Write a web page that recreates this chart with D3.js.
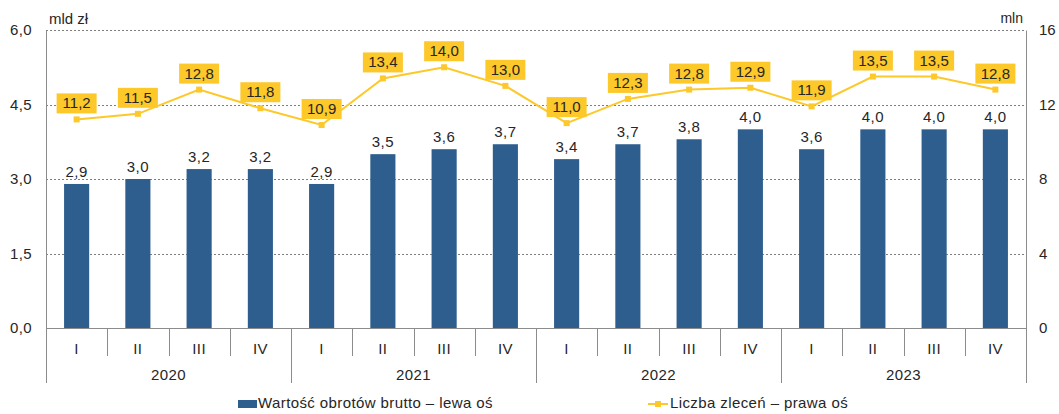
<!DOCTYPE html>
<html>
<head>
<meta charset="utf-8">
<script src="https://cdn.jsdelivr.net/npm/d3@7"></script>
<style>
    body { margin: 0; background: #fff; font-family: "Liberation Sans", Arial, sans-serif; }
    text { fill: #262626; }
    .wide { letter-spacing: 0.4px; }
</style>
</head>
<body>
<div id="chart"></div>
<script>
// Data
const years = ["2020", "2021", "2022", "2023"];
const quarters = ["I", "II", "III", "IV"];
const turnover = [2.9, 3.0, 3.2, 3.2, 2.9, 3.5, 3.6, 3.7, 3.4, 3.7, 3.8, 4.0, 3.6, 4.0, 4.0, 4.0];
const orders = [11.2, 11.5, 12.8, 11.8, 10.9, 13.4, 14.0, 13.0, 11.0, 12.3, 12.8, 12.9, 11.9, 13.5, 13.5, 12.8];
const leftTicks = [0, 1.5, 3.0, 4.5, 6.0];
const rightTicks = [0, 4, 8, 12, 16];

const W = 1059, H = 414;
const margin = { top: 30, right: 33, bottom: 86, left: 46 };
const width = W - margin.left - margin.right;
const height = H - margin.top - margin.bottom;

const barColor = "#2d5e8e";
const lineColor = "#fdc82a";
const fmt = d3.format(".1f");
const comma = v => fmt(v).replace(".", ",");

const keys = [];
years.forEach(y => quarters.forEach(q => keys.push(y + "-" + q)));

const svg = d3.select("#chart")
    .append("svg")
    .attr("width", W)
    .attr("height", H)
    .append("g")
    .attr("transform", `translate(${margin.left},${margin.top})`);

// Scales
const x = d3.scaleBand().domain(keys).range([0, width]).paddingInner(0.59).paddingOuter(0.295);
const xBand = d3.scaleBand().domain(keys).range([0, width]);
const yL = d3.scaleLinear().domain([0, 6]).range([height, 0]);
const yR = d3.scaleLinear().domain([0, 16]).range([height, 0]);

// Grid lines
svg.append("g")
    .selectAll("line")
    .data(leftTicks.filter(d => d > 0))
    .enter()
    .append("line")
    .attr("x1", 0)
    .attr("x2", width)
    .attr("y1", d => Math.round(yL(d)) + 0.5)
    .attr("y2", d => Math.round(yL(d)) + 0.5)
    .attr("stroke", "#7f7f7f")
    .attr("stroke-dasharray", "2,2");

// Left axis
const leftAxis = svg.append("g")
    .call(d3.axisLeft(yL).tickValues(leftTicks).tickSize(0).tickPadding(14).tickFormat(comma));
leftAxis.select(".domain").attr("stroke", "#8c8c8c");
leftAxis.selectAll("text").attr("class", "wide").style("font-size", "15px").style("font-family", "Liberation Sans, Arial");

// Right axis
const rightAxis = svg.append("g")
    .attr("transform", `translate(${width},0)`)
    .call(d3.axisRight(yR).tickValues(rightTicks).tickSize(0).tickPadding(13));
rightAxis.select(".domain").attr("stroke", "#8c8c8c");
rightAxis.selectAll("text").style("font-size", "15px").style("font-family", "Liberation Sans, Arial");

// Axis units
svg.append("text").attr("x", 3).attr("y", -6).style("font-size", "15px").text("mld zł");
svg.append("text").attr("x", width - 3).attr("y", -7).attr("text-anchor", "end").style("font-size", "14px").text("mln");

// Bars
svg.selectAll(".bar")
    .data(turnover)
    .enter()
    .append("rect")
    .attr("class", "bar")
    .attr("x", (d, i) => x(keys[i]))
    .attr("width", x.bandwidth())
    .attr("y", d => yL(d))
    .attr("height", d => height - yL(d))
    .attr("fill", barColor);

// Bar labels
svg.selectAll(".bar-label")
    .data(turnover)
    .enter()
    .append("text")
    .attr("class", "wide")
    .attr("x", (d, i) => x(keys[i]) + x.bandwidth() / 2)
    .attr("y", d => yL(d) - 7)
    .attr("text-anchor", "middle")
    .style("font-size", "15px")
    .text(comma);

// Category axis
svg.append("line")
    .attr("x1", 0).attr("x2", width)
    .attr("y1", height + 0.5).attr("y2", height + 0.5)
    .attr("stroke", "#8c8c8c");

svg.selectAll(".q-tick")
    .data(keys.concat(["end"]))
    .enter()
    .append("line")
    .attr("x1", (d, i) => Math.round(i * xBand.step()) + 0.5)
    .attr("x2", (d, i) => Math.round(i * xBand.step()) + 0.5)
    .attr("y1", height)
    .attr("y2", (d, i) => i % 4 === 0 ? height + 55 : height + 28)
    .attr("stroke", "#8c8c8c");

svg.selectAll(".q-label")
    .data(keys)
    .enter()
    .append("text")
    .attr("class", "wide")
    .attr("x", d => xBand(d) + xBand.bandwidth() / 2)
    .attr("y", height + 26)
    .attr("text-anchor", "middle")
    .style("font-size", "15px")
    .text(d => d.split("-")[1]);

svg.selectAll(".y-label")
    .data(years)
    .enter()
    .append("text")
    .attr("class", "wide")
    .attr("x", (d, i) => (i * 4 + 2) * xBand.step())
    .attr("y", height + 52)
    .attr("text-anchor", "middle")
    .style("font-size", "15px")
    .text(d => d);

// Line
const line = d3.line()
    .x((d, i) => xBand(keys[i]) + xBand.bandwidth() / 2)
    .y(d => yR(d));

svg.append("path")
    .datum(orders)
    .attr("d", line)
    .attr("fill", "none")
    .attr("stroke", lineColor)
    .attr("stroke-width", 2);

svg.selectAll(".marker")
    .data(orders)
    .enter()
    .append("rect")
    .attr("x", (d, i) => xBand(keys[i]) + xBand.bandwidth() / 2 - 3)
    .attr("y", d => yR(d) - 3)
    .attr("width", 6)
    .attr("height", 6)
    .attr("fill", lineColor);

// Line labels
const lbl = svg.selectAll(".line-label")
    .data(orders)
    .enter()
    .append("g")
    .attr("transform", (d, i) => `translate(${xBand(keys[i]) + xBand.bandwidth() / 2},${yR(d) - 6})`);

lbl.append("rect")
    .attr("x", -20)
    .attr("y", -20)
    .attr("width", 40)
    .attr("height", 20)
    .attr("fill", lineColor);

lbl.append("text")
    .attr("y", -5)
    .attr("text-anchor", "middle")
    .style("font-size", "15px")
    .text(comma);

// Legend
const legend = svg.append("g").attr("transform", `translate(0,${height + 80})`);
legend.append("rect")
    .attr("x", 192).attr("y", -8)
    .attr("width", 19).attr("height", 8)
    .attr("fill", barColor);
legend.append("text").attr("class", "wide").attr("x", 212).attr("y", 0).style("font-size", "15px").text("Wartość obrotów brutto – lewa oś");

legend.append("line")
    .attr("x1", 602).attr("x2", 622)
    .attr("y1", -4).attr("y2", -4)
    .attr("stroke", lineColor).attr("stroke-width", 2);
legend.append("rect")
    .attr("x", 609).attr("y", -7)
    .attr("width", 6).attr("height", 6)
    .attr("fill", lineColor);
legend.append("text").attr("class", "wide").attr("x", 624).attr("y", 0).style("font-size", "15px").text("Liczba zleceń – prawa oś");
</script>
</body>
</html>
